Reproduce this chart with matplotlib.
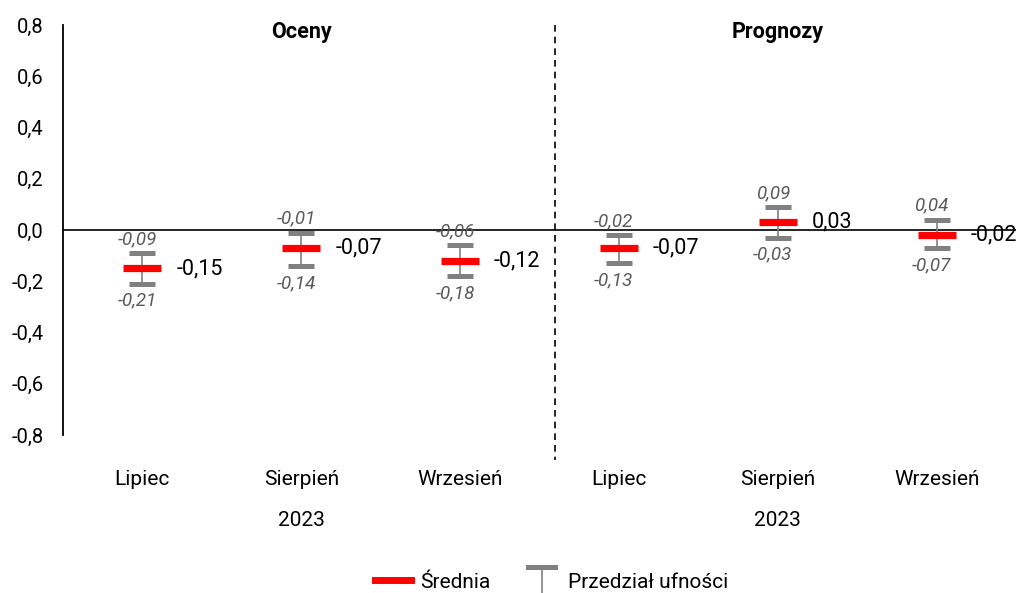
import matplotlib
matplotlib.use("Agg")
import matplotlib.pyplot as plt
from matplotlib.lines import Line2D
from matplotlib.legend_handler import HandlerBase
from matplotlib.transforms import blended_transform_factory

plt.rcParams['font.family'] = ['Roboto', 'DejaVu Sans']

categories = ["Lipiec", "Sierpień", "Wrzesień", "Lipiec", "Sierpień", "Wrzesień"]
group_labels = ["2023", "2023"]
section_titles = ["Oceny", "Prognozy"]
means = [-0.15, -0.07, -0.12, -0.07, 0.03, -0.02]
lower = [-0.21, -0.14, -0.18, -0.13, -0.03, -0.07]
upper = [-0.09, -0.01, -0.06, -0.02, 0.09, 0.04]
yticks = [-0.8, -0.6, -0.4, -0.2, 0.0, 0.2, 0.4, 0.6, 0.8]

RED = "#FF0000"
GREY = "#808080"
LABEL_GREY = "#595959"

fig = plt.figure(figsize=(10.16, 5.93), dpi=100)
ax = fig.add_axes([0.062, 0.2664, 0.938, 0.6914])
x = list(range(len(categories)))

# confidence intervals
mid = [(l + u) / 2 for l, u in zip(lower, upper)]
half = [(u - l) / 2 for l, u in zip(lower, upper)]
ax.errorbar(x, mid, yerr=half, fmt='none', ecolor=GREY, elinewidth=1.2,
            capsize=9.7, capthick=3.6, zorder=3)
# means
ax.plot(x, means, linestyle='none', marker='_', markersize=27.4,
        markeredgewidth=5.2, color=RED, zorder=4)

for xi, m, l, u in zip(x, means, lower, upper):
    ax.annotate(f"{m:.2f}".replace('.', ','), (xi, m), xytext=(34, 0),
                textcoords='offset pixels', ha='left', va='center',
                fontsize=15.5, color='black')
    ax.annotate(f"{u:.2f}".replace('.', ','), (xi, u), xytext=(-5, 14),
                textcoords='offset pixels', ha='center', va='center',
                fontsize=13.5, style='italic', color=LABEL_GREY)
    ax.annotate(f"{l:.2f}".replace('.', ','), (xi, l), xytext=(-5, -17),
                textcoords='offset pixels', ha='center', va='center',
                fontsize=13.5, style='italic', color=LABEL_GREY)

ax.set_xlim(-0.5, 5.5)
ax.set_ylim(-0.8, 0.8)
ax.axhline(0, color='black', linewidth=1.2, zorder=2)
ax.plot([2.6, 2.6], [0.8, -0.898], color='black', linestyle=(0, (4, 3)),
        linewidth=1.2, clip_on=False)

for s in ['top', 'right', 'bottom']:
    ax.spines[s].set_visible(False)
ax.spines['left'].set_linewidth(1.3)

ax.set_yticks(yticks)
ax.set_yticklabels([f"{v:.1f}".replace('.', ',') for v in yticks],
                   fontsize=14.5)
ax.tick_params(axis='y', length=0, pad=14)
ax.set_xticks(x)
ax.set_xticklabels(categories, fontsize=15)
ax.tick_params(axis='x', length=0, pad=25)

trans = blended_transform_factory(ax.transData, fig.transFigure)
for gx, lab in zip([1, 4], group_labels):
    ax.text(gx, 1 - 520 / 593, lab, transform=trans, ha='center',
            va='center', fontsize=15)
for gx, lab in zip([1, 4], section_titles):
    ax.text(gx, 1 - 32 / 593, lab, transform=trans, ha='center',
            va='center', fontsize=15.5, fontweight='bold')


class TBarHandler(HandlerBase):
    def create_artists(self, legend, orig_handle, xdescent, ydescent,
                       width, height, fontsize, trans):
        cx = width / 2 - xdescent
        top = height + 4
        cap = Line2D([cx - 9.5, cx + 9.5], [top, top], color=GREY,
                     linewidth=3.6, transform=trans)
        stem = Line2D([cx, cx], [top, -ydescent - 8], color=GREY,
                      linewidth=1.2, transform=trans)
        return [cap, stem]


red_handle = Line2D([], [], color=RED, linewidth=5)
t_handle = Line2D([], [], color=GREY)
fig.legend([red_handle, t_handle], ["Średnia", "Przedział ufności"],
           handler_map={t_handle: TBarHandler()},
           loc='center', bbox_to_anchor=(0.543, 1 - 582 / 593), ncol=2,
           frameon=False, fontsize=15, handlelength=1.75, columnspacing=1.6,
           handletextpad=0.4)

fig.savefig("out.png", dpi=100)
